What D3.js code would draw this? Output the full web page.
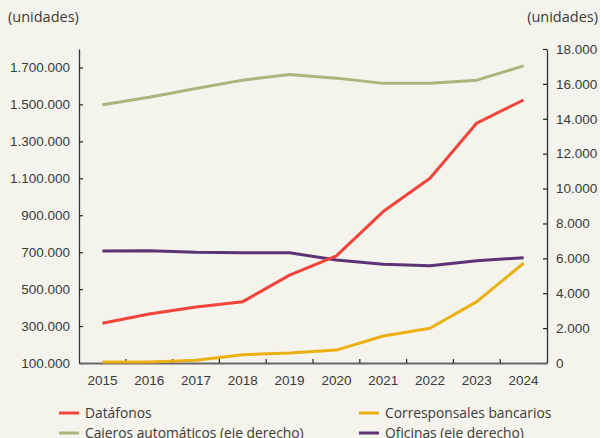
<!DOCTYPE html>
<html><head><meta charset="utf-8">
<script src="https://cdn.jsdelivr.net/npm/d3@7"></script>
<style>
html,body{margin:0;padding:0;background:#f4f4ec;}
svg{display:block;font-family:"Open Sans",sans-serif;}
</style></head>
<body><svg id="c" width="600" height="438"></svg>
<script>
const years = [2015,2016,2017,2018,2019,2020,2021,2022,2023,2024];
const datafonos = [315000,365000,403000,432000,576000,680000,920000,1100000,1399000,1524000];
const corresponsales = [105000,106000,115000,145000,154000,170000,246000,288000,432000,640000];
const cajeros = [14800,15240,15730,16215,16540,16330,16030,16030,16215,17035];
const oficinas = [6418,6435,6343,6320,6320,5902,5655,5575,5862,6034];
const leftTicks = [100000,300000,500000,700000,900000,1100000,1300000,1500000,1700000];
const rightTicks = [0,2000,4000,6000,8000,10000,12000,14000,16000,18000];

const fmt = v => d3.format(",")(v).replace(/,/g,".");
const svg = d3.select("#c");
const L=79, R=547, T=49, B=363;
const x = d3.scaleBand().domain(years).range([L,R]);
const yL = d3.scaleLinear().domain([100000,1800000]).range([B,T]);
const yR = d3.scaleLinear().domain([0,18000]).range([B,T]);
const cx = d => x(d)+x.bandwidth()/2;
const txt="#3a3a3a";

// axes
const gl = svg.append("g").attr("transform",`translate(${L},0)`)
  .call(d3.axisLeft(yL).tickValues(leftTicks).tickFormat(fmt).tickSizeInner(-4).tickSizeOuter(0).tickPadding(9));
const gr = svg.append("g").attr("transform",`translate(${R},0)`)
  .call(d3.axisRight(yR).tickValues(rightTicks).tickFormat(fmt).tickSizeInner(-4).tickSizeOuter(0).tickPadding(9));
const gx = svg.append("g").attr("transform",`translate(0,${B})`)
  .call(d3.axisBottom(x).tickSize(0).tickPadding(12));
// band boundary ticks
svg.append("g").selectAll("line").data(years.slice(1)).join("line")
  .attr("x1",d=>x(d)).attr("x2",d=>x(d)).attr("y1",B-4).attr("y2",B)
  .attr("stroke","#222").attr("stroke-width",1.2);
[gl,gr,gx].forEach(g=>{
  g.selectAll("text").attr("fill",txt).style("font-size","13.5px");
  g.selectAll("line").attr("stroke","#222").attr("stroke-width",1.2);
  g.select(".domain").attr("stroke","#333").attr("stroke-width",1.3);
});
gx.select(".domain").attr("stroke","#666").attr("stroke-width",2);

svg.append("text").attr("x",8).attr("y",22).attr("fill",txt).style("font-size","14.5px").text("(unidades)");
svg.append("text").attr("x",598).attr("y",22).attr("text-anchor","end").attr("fill",txt).style("font-size","14.5px").text("(unidades)");

const series = [
  {name:"Cajeros automáticos (eje derecho)", vals:cajeros, y:yR, color:"#abb47b"},
  {name:"Oficinas (eje derecho)", vals:oficinas, y:yR, color:"#5c3374"},
  {name:"Corresponsales bancarios", vals:corresponsales, y:yL, color:"#ebb012"},
  {name:"Datáfonos", vals:datafonos, y:yL, color:"#f2443a"}
];
series.forEach(s=>{
  const line = d3.line().x((d,i)=>cx(years[i])).y(d=>s.y(d));
  svg.append("path").attr("d",line(s.vals)).attr("fill","none")
    .attr("stroke",s.color).attr("stroke-width",3).attr("stroke-linejoin","round");
});

const legend = [
  {name:"Datáfonos", color:"#f2443a", x:59, y:413},
  {name:"Corresponsales bancarios", color:"#ebb012", x:359, y:413},
  {name:"Cajeros automáticos (eje derecho)", color:"#abb47b", x:59, y:433},
  {name:"Oficinas (eje derecho)", color:"#5c3374", x:359, y:433}
];
const lg = svg.append("g").selectAll("g").data(legend).join("g")
  .attr("transform",d=>`translate(${d.x},${d.y})`);
lg.append("line").attr("x1",0).attr("x2",20).attr("stroke",d=>d.color).attr("stroke-width",3);
lg.append("text").attr("x",26).attr("dy","0.35em").attr("fill",txt).style("font-size","13.8px").text(d=>d.name);
</script></body></html>
